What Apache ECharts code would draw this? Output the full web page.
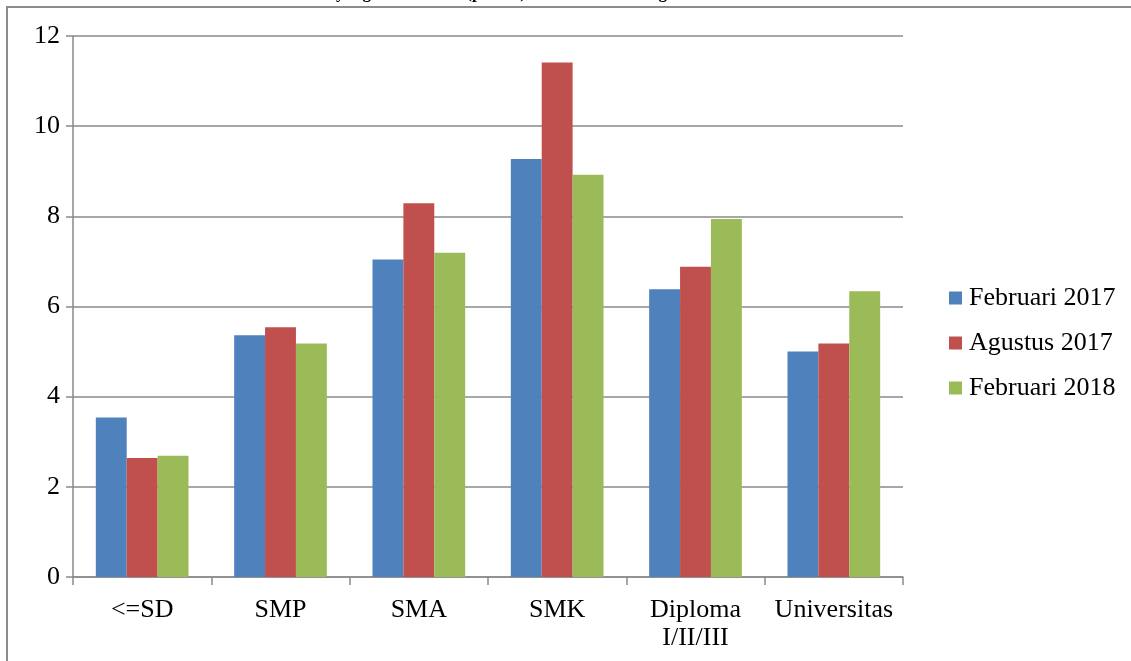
<!DOCTYPE html>
<html>
<head>
<meta charset="utf-8">
<title>Tingkat Pengangguran Terbuka menurut Pendidikan</title>
<script src="https://cdn.jsdelivr.net/npm/echarts@6/dist/echarts.min.js"></script>
<style>
  html, body { margin: 0; padding: 0; background: #fff; }
  #chart { width: 1131px; height: 661px; }
</style>
</head>
<body>
<div id="chart"></div>
<script>
// Education levels on the x axis
const categories = ['<=SD', 'SMP', 'SMA', 'SMK', 'Diploma\nI/II/III', 'Universitas'];

// Open unemployment rate (persen) per period
const seriesNames = ['Februari 2017', 'Agustus 2017', 'Februari 2018'];
const feb2017 = [3.54, 5.36, 7.04, 9.27, 6.38, 5.00];
const agu2017 = [2.64, 5.54, 8.29, 11.41, 6.88, 5.18];
const feb2018 = [2.69, 5.18, 7.19, 8.92, 7.94, 6.34];

const titleText = 'Pendidikan yang Ditamatkan (persen), Februari 2017, Agustus 2017 dan Februari 2018';

const seriesColors = ['#4F81BD', '#C0504D', '#9BBB59'];
const serif = '"Liberation Serif", "Times New Roman", serif';
const axisGray = '#8a8a8a';
const labelSize = 26;

const chart = echarts.init(document.getElementById('chart'), null, { renderer: 'canvas' });

const values = [feb2017, agu2017, feb2018];

chart.setOption({
  animation: false,
  backgroundColor: '#ffffff',
  textStyle: { fontFamily: serif },
  title: {
    text: titleText,
    left: 'center',
    top: -15,
    padding: 0,
    textStyle: { fontFamily: serif, fontSize: 17, fontWeight: 'bold', color: '#000' }
  },
  graphic: [{
    type: 'polyline',
    silent: true,
    z: 100,
    shape: { points: [[7, 700], [7, 7], [1140, 7]] },
    style: { stroke: '#8c8c8c', lineWidth: 2, fill: null }
  }],
  legend: {
    orient: 'vertical',
    left: 944,
    top: 280,
    itemWidth: 13,
    itemHeight: 13,
    itemGap: 19,
    icon: 'rect',
    textStyle: { fontFamily: serif, fontSize: labelSize, color: '#000', padding: [0, 0, 0, 2] },
    data: seriesNames
  },
  grid: { left: 73, right: 228, top: 36, bottom: 84, containLabel: false },
  xAxis: {
    type: 'category',
    data: categories,
    boundaryGap: true,
    axisLine: { lineStyle: { color: axisGray, width: 1.5 } },
    axisTick: { show: true, length: 8, alignWithLabel: false, lineStyle: { color: axisGray, width: 1.5 } },
    axisLabel: {
      fontFamily: serif, fontSize: labelSize, color: '#000', margin: 19,
      lineHeight: 28, interval: 0
    }
  },
  yAxis: {
    type: 'value',
    min: 0,
    max: 12,
    interval: 2,
    axisLine: { show: true, lineStyle: { color: axisGray, width: 1.5 } },
    axisTick: { show: true, length: 7, lineStyle: { color: axisGray, width: 1.5 } },
    axisLabel: { fontFamily: serif, fontSize: labelSize, color: '#000', margin: 13 },
    splitLine: { show: true, lineStyle: { color: axisGray, width: 1.5 } }
  },
  series: seriesNames.map((name, i) => ({
    name: name,
    type: 'bar',
    data: values[i],
    barGap: '0%',
    barCategoryGap: '33%',
    itemStyle: { color: seriesColors[i] }
  }))
});
</script>
</body>
</html>
